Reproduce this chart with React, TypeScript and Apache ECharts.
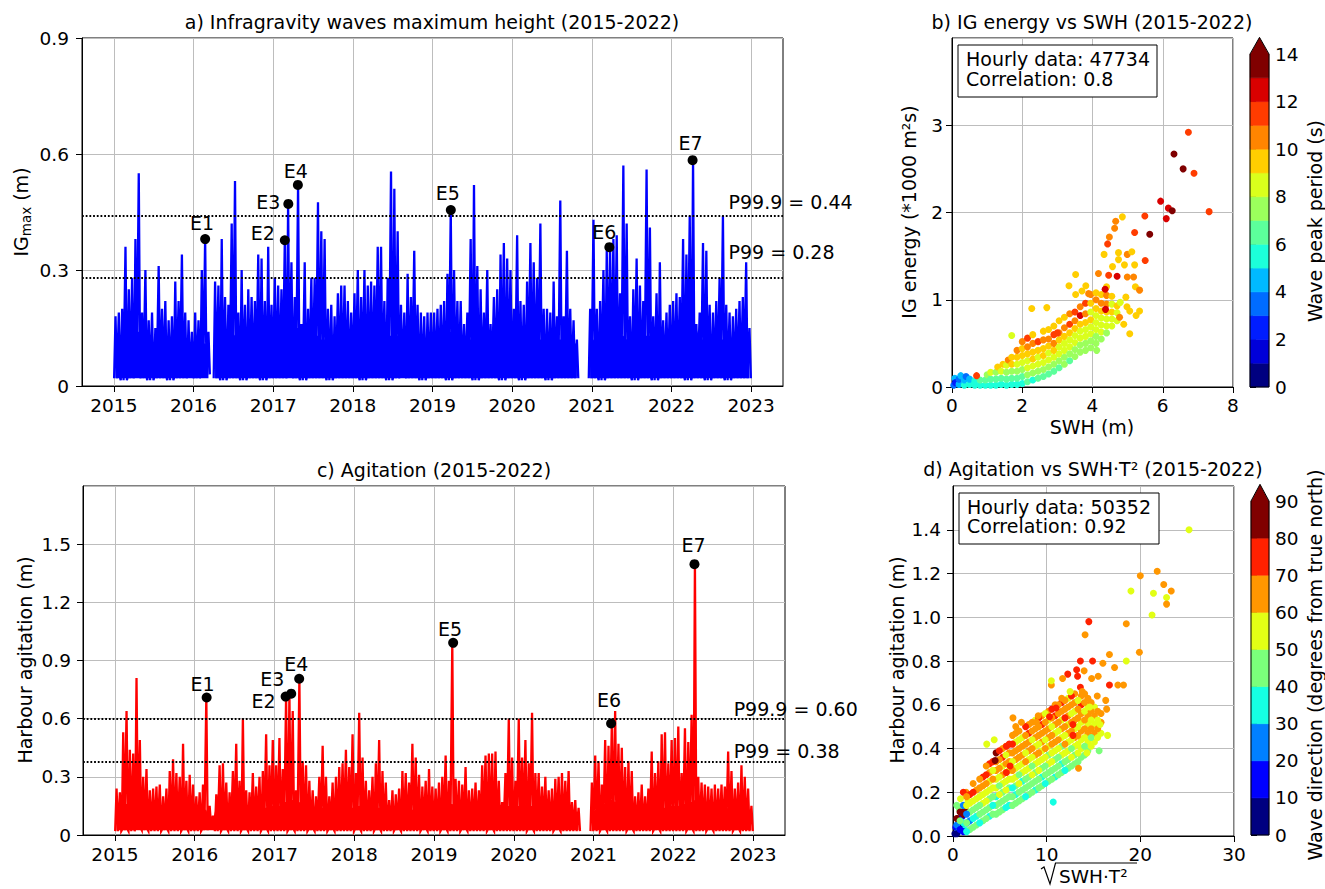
import React, { useEffect, useRef } from "react";
import * as echarts from "echarts";

const FONT = "'DejaVu Sans', 'Liberation Sans', sans-serif";

// ---------------- data ----------------
const SERIES_START = 2015;
const SLOTS_PER_YEAR = 24; // half-month slots
const yearTicks = [2015, 2016, 2017, 2018, 2019, 2020, 2021, 2022, 2023];

// a) IGmax: half-monthly peak values (null = no data)
const igPeaks: (number | null)[] = [
  0.18, 0.19, 0.2, 0.36, 0.25, 0.28, 0.38, 0.55, 0.19, 0.3,
  0.17, 0.19, 0.15, 0.31, 0.2, 0.22, 0.17, 0.18, 0.27, 0.22,
  0.34, 0.19, 0.17, 0.14, 0.19, 0.17, 0.3, 0.38, 0.14, null,
  0.27, 0.26, 0.38, 0.23, 0.21, 0.42, 0.53, 0.19, 0.3, 0.21,
  0.25, 0.23, 0.22, 0.34, 0.33, 0.22, 0.36, 0.21, 0.28, 0.26,
  0.25, 0.377, 0.471, 0.32, 0.23, 0.52, 0.16, 0.32, 0.2, 0.28,
  0.28, 0.475, 0.4, 0.38, 0.2, 0.21, 0.18, 0.24, 0.26, 0.26,
  0.22, 0.19, 0.24, 0.3, 0.23, 0.3, 0.26, 0.27, 0.26, 0.36,
  0.36, 0.22, 0.28, 0.555, 0.51, 0.4, 0.21, 0.19, 0.29, 0.23,
  0.35, 0.21, 0.19, 0.18, 0.19, 0.19, 0.19, 0.2, 0.21, 0.22,
  0.29, 0.455, 0.3, 0.22, 0.22, 0.16, 0.19, 0.38, 0.52, 0.31,
  0.25, 0.19, 0.3, 0.16, 0.23, 0.25, 0.34, 0.37, 0.33, 0.3,
  0.2, 0.39, 0.22, 0.21, 0.27, 0.37, 0.32, 0.28, 0.42, 0.2,
  0.2, 0.19, 0.27, 0.18, 0.48, 0.18, 0.35, 0.2, 0.17, 0.12,
  null, null, null, 0.2, 0.43, 0.2, 0.22, 0.3, 0.35, 0.36,
  0.38, 0.39, 0.24, 0.57, 0.42, 0.18, 0.25, 0.33, 0.26, 0.22,
  0.56, 0.41, 0.18, 0.24, 0.32, 0.17, 0.19, 0.21, 0.22, 0.24,
  0.23, 0.38, 0.34, 0.44, 0.584, 0.16, 0.19, 0.37, 0.35, 0.21,
  0.19, 0.22, 0.28, 0.44, 0.21, 0.19, 0.18, 0.2, 0.22, 0.23,
  0.32, 0.15,
];
// monthly minimum (troughs)
const igLows = [
  0.02, 0.015, 0.02, 0.025, 0.02, 0.015, 0.02, 0.02, 0.015, 0.02, 0.02, 0.025,
  0.02, 0.025, 0.03, 0.02, 0.015, 0.02, 0.02, 0.015, 0.02, 0.02, 0.015, 0.02,
  0.02, 0.02, 0.025, 0.02, 0.015, 0.02, 0.02, 0.02, 0.015, 0.02, 0.02, 0.02,
  0.02, 0.015, 0.02, 0.02, 0.02, 0.015, 0.02, 0.025, 0.02, 0.02, 0.015, 0.02,
  0.02, 0.02, 0.015, 0.02, 0.02, 0.02, 0.015, 0.02, 0.02, 0.02, 0.015, 0.02,
  0.02, 0.015, 0.02, 0.02, 0.02, 0.015, 0.02, 0.02, 0.02, 0.02, 0.02, 0.02,
  0.02, 0.015, 0.02, 0.02, 0.02, 0.02, 0.015, 0.02, 0.02, 0.015, 0.02, 0.02,
  0.02, 0.02, 0.015, 0.02, 0.02, 0.015, 0.02, 0.02, 0.015, 0.02, 0.02, 0.02,
];
// monthly typical (dense band) level
const igBand = [
  0.12, 0.13, 0.13, 0.14, 0.12, 0.11, 0.11, 0.12, 0.11, 0.12, 0.12, 0.11,
  0.12, 0.11, 0.1, 0.14, 0.13, 0.14, 0.13, 0.13, 0.12, 0.13, 0.12, 0.13,
  0.13, 0.14, 0.15, 0.15, 0.13, 0.12, 0.13, 0.12, 0.12, 0.12, 0.13, 0.12,
  0.13, 0.12, 0.13, 0.13, 0.12, 0.13, 0.13, 0.12, 0.11, 0.12, 0.12, 0.12,
  0.12, 0.13, 0.14, 0.13, 0.12, 0.12, 0.12, 0.13, 0.13, 0.14, 0.13, 0.13,
  0.13, 0.14, 0.13, 0.12, 0.12, 0.13, 0.12, 0.12, 0.12, 0.11, 0.1, 0.1,
  0.12, 0.13, 0.14, 0.15, 0.13, 0.12, 0.12, 0.13, 0.13, 0.12, 0.12, 0.13,
  0.13, 0.13, 0.15, 0.15, 0.12, 0.12, 0.12, 0.12, 0.13, 0.12, 0.12, 0.12,
];
const igThresholds = [0.44, 0.28];
const igThresholdTexts = ["P99.9 = 0.44", "P99 = 0.28"];
const igEvents: [number, number, string][] = [
  [2016.146, 0.38, "E1"], [2017.146, 0.377, "E2"], [2017.19, 0.471, "E3"], [2017.31, 0.52, "E4"],
  [2019.23, 0.455, "E5"], [2021.22, 0.359, "E6"], [2022.265, 0.584, "E7"],
];

// c) Agitation
const agPeaks: (number | null)[] = [
  0.24, 0.22, 0.53, 0.64, 0.44, 0.42, 0.81, 0.49, 0.3, 0.34,
  0.23, 0.24, 0.25, 0.26, 0.2, 0.24, 0.33, 0.39, 0.32, 0.3,
  0.47, 0.28, 0.31, 0.26, 0.2, 0.22, 0.26, 0.709, 0.15, 0.1,
  0.21, 0.36, 0.37, 0.27, 0.22, 0.33, 0.47, 0.28, 0.6, 0.23,
  0.22, 0.32, 0.25, 0.3, 0.33, 0.52, 0.36, 0.49, 0.36, 0.5,
  0.34, 0.714, 0.729, 0.64, 0.23, 0.806, 0.38, 0.36, 0.28, 0.23,
  0.2, 0.3, 0.46, 0.3, 0.2, 0.27, 0.3, 0.35, 0.37, 0.44,
  0.35, 0.52, 0.32, 0.63, 0.4, 0.28, 0.23, 0.3, 0.37, 0.49,
  0.33, 0.27, 0.18, 0.23, 0.21, 0.24, 0.33, 0.32, 0.27, 0.47,
  0.4, 0.31, 0.25, 0.28, 0.34, 0.25, 0.24, 0.27, 0.3, 0.41,
  0.28, 0.99, 0.29, 0.28, 0.26, 0.35, 0.23, 0.24, 0.27, 0.23,
  0.36, 0.41, 0.42, 0.42, 0.43, 0.28, 0.17, 0.32, 0.6, 0.4,
  0.28, 0.6, 0.4, 0.49, 0.37, 0.63, 0.32, 0.32, 0.25, 0.3,
  0.23, 0.24, 0.29, 0.3, 0.32, 0.28, 0.33, 0.17, 0.18, 0.14,
  null, null, null, 0.27, 0.41, 0.38, 0.26, 0.49, 0.46, 0.575,
  0.64, 0.47, 0.45, 0.35, 0.38, 0.33, 0.2, 0.22, 0.26, 0.2,
  0.24, 0.43, 0.32, 0.38, 0.52, 0.53, 0.37, 0.49, 0.5, 0.56,
  0.32, 0.55, 0.48, 0.62, 1.397, 0.3, 0.27, 0.26, 0.25, 0.24,
  0.26, 0.24, 0.26, 0.25, 0.43, 0.33, 0.24, 0.27, 0.36, 0.3,
  0.24, 0.15,
];
const agLows = [
  0.02, 0.025, 0.02, 0.03, 0.025, 0.02, 0.02, 0.025, 0.02, 0.02, 0.025, 0.02,
  0.02, 0.025, 0.05, 0.02, 0.025, 0.02, 0.02, 0.025, 0.02, 0.02, 0.025, 0.02,
  0.02, 0.02, 0.025, 0.02, 0.02, 0.025, 0.02, 0.02, 0.025, 0.02, 0.02, 0.02,
  0.025, 0.02, 0.02, 0.025, 0.02, 0.02, 0.025, 0.02, 0.02, 0.02, 0.025, 0.02,
  0.02, 0.025, 0.02, 0.02, 0.025, 0.02, 0.02, 0.02, 0.025, 0.02, 0.02, 0.02,
  0.02, 0.02, 0.025, 0.02, 0.02, 0.02, 0.025, 0.02, 0.02, 0.02, 0.02, 0.02,
  0.02, 0.025, 0.02, 0.02, 0.02, 0.025, 0.02, 0.02, 0.02, 0.025, 0.02, 0.02,
  0.02, 0.02, 0.025, 0.02, 0.02, 0.025, 0.02, 0.02, 0.02, 0.025, 0.02, 0.02,
];
const agBand = [
  0.15, 0.16, 0.17, 0.17, 0.15, 0.13, 0.13, 0.14, 0.14, 0.15, 0.14, 0.14,
  0.14, 0.13, 0.08, 0.15, 0.15, 0.16, 0.16, 0.15, 0.14, 0.15, 0.14, 0.15,
  0.15, 0.17, 0.18, 0.17, 0.15, 0.14, 0.14, 0.14, 0.13, 0.14, 0.15, 0.14,
  0.15, 0.16, 0.15, 0.14, 0.13, 0.13, 0.14, 0.13, 0.13, 0.14, 0.15, 0.14,
  0.14, 0.15, 0.16, 0.15, 0.14, 0.14, 0.15, 0.14, 0.15, 0.16, 0.15, 0.15,
  0.15, 0.16, 0.15, 0.14, 0.14, 0.15, 0.14, 0.14, 0.13, 0.12, 0.11, 0.11,
  0.13, 0.16, 0.18, 0.17, 0.15, 0.14, 0.14, 0.14, 0.15, 0.15, 0.14, 0.15,
  0.15, 0.16, 0.17, 0.18, 0.14, 0.13, 0.13, 0.13, 0.14, 0.14, 0.13, 0.13,
];
const agThresholds = [0.6, 0.38];
const agThresholdTexts = ["P99.9 = 0.60", "P99 = 0.38"];
const agEvents: [number, number, string][] = [
  [2016.15, 0.709, "E1"], [2017.14, 0.714, "E2"], [2017.21, 0.729, "E3"], [2017.31, 0.806, "E4"],
  [2019.24, 0.991, "E5"], [2021.22, 0.575, "E6"], [2022.265, 1.397, "E7"],
];

// b) IG energy vs SWH : [SWH (m), IG energy (*1000 m2s), peak period (s)]
const igScatterCore = [
  [0.05,0.02,3.5],[0.08,0.1,4.5],[0.1,0.05,2.5],[0.2,0.03,4.5],[0.2,0.09,3.5],[0.25,0.13,4.5],
  [0.35,0.02,5.5],[0.35,0.08,4.5],[0.4,0.12,3.5],[0.5,0.03,5.5],[0.5,0.09,4.5],
  [0.65,0.02,5.5],[0.65,0.07,5.5],[0.8,0.02,5.5],[0.8,0.08,6.5],
  [0.95,0.02,5.5],[0.95,0.08,6.5],[1.0,0.14,7.5],
  [1.1,0.02,5.5],[1.1,0.09,6.5],[1.1,0.17,8.5],
  [1.25,0.02,5.5],[1.25,0.09,6.5],[1.25,0.17,7.5],[1.3,0.23,9.5],
  [1.4,0.03,5.5],[1.4,0.1,6.5],[1.4,0.18,8.5],[1.45,0.26,9.5],
  [1.55,0.02,5.5],[1.55,0.09,6.5],[1.55,0.17,7.5],[1.55,0.25,8.5],[1.6,0.31,10.5],
  [1.7,0.03,5.5],[1.7,0.1,6.5],[1.7,0.18,7.5],[1.7,0.26,9.5],[1.7,0.34,9.5],
  [1.85,0.03,5.5],[1.85,0.1,6.5],[1.85,0.18,7.5],[1.85,0.26,8.5],[1.85,0.34,9.5],[1.85,0.42,10.5],
  [2.0,0.04,5.5],[2.0,0.12,6.5],[2.0,0.2,7.5],[2.0,0.28,8.5],[2.0,0.36,9.5],[2.0,0.44,9.5],[2.0,0.52,10.5],
  [2.15,0.06,6.5],[2.15,0.14,7.5],[2.15,0.22,8.5],[2.15,0.3,8.5],[2.15,0.38,9.5],[2.15,0.46,10.5],[2.15,0.56,11.5],
  [2.3,0.08,5.5],[2.3,0.16,7.5],[2.3,0.24,8.5],[2.3,0.32,9.5],[2.3,0.4,9.5],[2.3,0.5,10.5],[2.3,0.6,9.5],
  [2.45,0.1,6.5],[2.45,0.18,7.5],[2.45,0.26,8.5],[2.45,0.34,8.5],[2.45,0.42,9.5],[2.45,0.52,11.5],
  [2.6,0.12,6.5],[2.6,0.2,7.5],[2.6,0.28,8.5],[2.6,0.36,9.5],[2.6,0.44,9.5],[2.6,0.54,10.5],[2.6,0.64,9.5],
  [2.75,0.15,6.5],[2.75,0.23,7.5],[2.75,0.31,8.5],[2.75,0.39,8.5],[2.75,0.47,9.5],[2.75,0.55,10.5],[2.75,0.66,9.5],
  [2.9,0.18,6.5],[2.9,0.26,7.5],[2.9,0.34,8.5],[2.9,0.42,9.5],[2.9,0.5,10.5],[2.9,0.6,11.5],[2.9,0.7,9.5],
  [3.05,0.22,6.5],[3.05,0.3,7.5],[3.05,0.38,8.5],[3.05,0.46,8.5],[3.05,0.54,9.5],[3.05,0.62,10.5],[3.05,0.76,9.5],
  [3.2,0.26,7.5],[3.2,0.34,7.5],[3.2,0.42,8.5],[3.2,0.5,8.5],[3.2,0.58,9.5],[3.2,0.68,10.5],[3.2,0.8,9.5],
  [3.35,0.3,6.5],[3.35,0.38,7.5],[3.35,0.46,8.5],[3.35,0.54,8.5],[3.35,0.62,9.5],[3.35,0.72,11.5],[3.35,0.84,10.5],
  [3.5,0.35,7.5],[3.5,0.43,7.5],[3.5,0.51,8.5],[3.5,0.59,8.5],[3.5,0.67,9.5],[3.5,0.76,10.5],[3.5,0.86,11.5],
  [3.65,0.4,7.5],[3.65,0.48,7.5],[3.65,0.56,8.5],[3.65,0.64,8.5],[3.65,0.72,9.5],[3.65,0.82,12.5],[3.65,0.92,10.5],
  [3.8,0.42,7.5],[3.8,0.5,7.5],[3.8,0.58,8.5],[3.8,0.66,8.5],[3.8,0.74,9.5],[3.8,0.84,10.5],[3.8,0.96,11.5],
  [3.95,0.45,7.5],[3.95,0.53,7.5],[3.95,0.61,8.5],[3.95,0.69,8.5],[3.95,0.77,9.5],[3.95,0.86,8.5],[3.95,0.96,9.5],[3.95,1.06,10.5],
  [4.1,0.5,7.5],[4.1,0.58,7.5],[4.1,0.66,8.5],[4.1,0.74,8.5],[4.1,0.82,8.5],[4.1,0.9,9.5],[4.1,1.0,10.5],[4.1,1.08,9.5],
  [4.25,0.55,7.5],[4.25,0.63,8.5],[4.25,0.71,8.5],[4.25,0.79,8.5],[4.25,0.87,9.5],[4.25,0.96,10.5],[4.25,1.06,9.5],
  [4.4,0.62,7.5],[4.4,0.7,8.5],[4.4,0.78,8.5],[4.4,0.86,9.5],[4.4,0.95,10.5],[4.4,1.05,10.5],[4.4,1.15,9.5],
  [4.55,0.7,8.5],[4.55,0.78,8.5],[4.55,0.86,9.5],[4.55,0.95,8.5],[4.55,1.04,9.5],
  [4.7,0.76,8.5],[4.7,0.85,8.5],[4.7,0.93,9.5],
];
const igScatterSparse = [
  [6.73,2.92,11.5],[6.32,2.67,13.5],[6.58,2.5,13],[6.89,2.45,11.5],[5.94,2.13,12.5],[6.16,2.05,12.5],
  [6.27,2.02,13],[6.1,1.93,12.5],[7.32,2.01,11.5],[5.63,1.75,13.5],[5.49,1.96,11.5],[5.2,1.77,11.5],
  [5.5,1.45,11.5],[4.85,1.95,9.5],[4.66,1.9,10.5],[4.63,1.82,10.5],[4.48,1.72,10.5],[4.43,1.64,11.5],
  [4.74,1.54,9.5],[4.99,1.52,10.5],[5.12,1.55,9.5],[4.74,1.46,9.5],[4.33,1.52,9.5],[4.57,1.38,9.5],
  [4.91,1.4,9.5],[5.2,1.4,9.5],[4.17,1.3,10.5],[4.46,1.28,11.5],[4.7,1.27,12.5],[4.99,1.26,10.5],
  [5.17,1.26,10.5],[3.52,1.29,9.5],[3.33,1.16,9.5],[3.81,1.16,9.5],[3.7,1.1,9.5],[3.52,1.06,9.5],
  [3.89,1.07,10.5],[4.36,1.12,12.5],[5.22,1.15,9.5],[5.34,1.11,10.5],[4.95,1.03,9.5],[4.98,0.92,9.5],
  [4.79,0.97,8.5],[5.06,0.87,9.5],[5.34,0.87,9.5],[5.24,0.82,9.5],[4.37,0.89,12.5],[2.27,0.9,9.5],
  [2.7,0.91,9.5],[5.06,0.61,9.5],[4.89,0.72,9.5],[4.77,0.8,10.5],[4.12,0.42,7.5],[1.7,0.59,8.5],
  [0.7,0.13,11.5],[3.0,0.62,11.5],
];

// d) Agitation vs sqrt(SWH*T^2) : [sqrt(SWH*T2), agitation (m), direction (deg)]
const agScatterCore = [
  [0.2,0.01,5],[0.3,0.04,15],[0.5,0.08,85],[0.6,0.02,25],[0.7,0.12,45],[0.9,0.05,5],[1.0,0.09,15],
  [1.2,0.03,35],[1.3,0.12,85],[1.5,0.06,25],[1.6,0.16,55],[0.4,0.14,45],[0.8,0.17,55],[1.4,0.2,65],[1.1,0.2,75],
  [0.4,0.01,5],[0.4,0.05,25],[0.4,0.08,85],
  [1.1,0.02,15],[1.1,0.06,35],[1.1,0.1,85],[1.1,0.14,25],
  [1.8,0.03,45],[1.8,0.07,25],[1.8,0.11,45],[1.8,0.15,55],[1.8,0.19,75],
  [2.5,0.05,45],[2.5,0.09,35],[2.5,0.13,45],[2.5,0.17,55],[2.5,0.21,65],
  [3.2,0.07,45],[3.2,0.11,45],[3.2,0.15,55],[3.2,0.19,55],[3.2,0.23,65],[3.2,0.27,75],
  [3.9,0.09,35],[3.9,0.13,45],[3.9,0.17,45],[3.9,0.21,55],[3.9,0.25,55],[3.9,0.29,65],[3.9,0.33,75],
  [4.6,0.1,45],[4.6,0.14,45],[4.6,0.18,35],[4.6,0.22,55],[4.6,0.26,55],[4.6,0.3,65],[4.6,0.34,65],[4.6,0.38,85],
  [5.3,0.12,45],[5.3,0.16,45],[5.3,0.2,45],[5.3,0.24,55],[5.3,0.28,65],[5.3,0.32,55],[5.3,0.36,75],[5.3,0.4,65],
  [6.0,0.14,35],[6.0,0.18,45],[6.0,0.22,45],[6.0,0.26,55],[6.0,0.3,55],[6.0,0.34,65],[6.0,0.38,65],[6.0,0.42,75],
  [6.7,0.15,45],[6.7,0.19,35],[6.7,0.23,45],[6.7,0.27,55],[6.7,0.31,55],[6.7,0.35,65],[6.7,0.39,65],[6.7,0.43,55],[6.7,0.47,65],
  [7.4,0.17,45],[7.4,0.21,45],[7.4,0.25,35],[7.4,0.29,55],[7.4,0.33,55],[7.4,0.37,65],[7.4,0.41,65],[7.4,0.45,55],
  [8.1,0.19,45],[8.1,0.23,45],[8.1,0.27,45],[8.1,0.31,55],[8.1,0.35,55],[8.1,0.39,65],[8.1,0.43,65],[8.1,0.47,75],[8.1,0.51,65],
  [8.8,0.21,35],[8.8,0.25,45],[8.8,0.29,45],[8.8,0.33,55],[8.8,0.37,65],[8.8,0.41,55],[8.8,0.45,65],[8.8,0.49,65],[8.8,0.53,55],
  [9.5,0.23,45],[9.5,0.27,35],[9.5,0.31,45],[9.5,0.35,55],[9.5,0.39,55],[9.5,0.43,65],[9.5,0.47,65],[9.5,0.51,75],[9.5,0.55,65],
  [10.2,0.25,45],[10.2,0.29,45],[10.2,0.33,55],[10.2,0.37,45],[10.2,0.41,55],[10.2,0.45,65],[10.2,0.49,65],[10.2,0.53,55],[10.2,0.57,65],
  [10.9,0.27,35],[10.9,0.31,45],[10.9,0.35,45],[10.9,0.39,55],[10.9,0.43,65],[10.9,0.47,55],[10.9,0.51,65],[10.9,0.55,75],[10.9,0.6,65],
  [11.6,0.29,45],[11.6,0.33,35],[11.6,0.37,55],[11.6,0.41,45],[11.6,0.45,55],[11.6,0.49,65],[11.6,0.53,55],[11.6,0.57,65],[11.6,0.61,75],
  [12.3,0.31,45],[12.3,0.35,45],[12.3,0.39,55],[12.3,0.43,55],[12.3,0.47,65],[12.3,0.51,55],[12.3,0.55,65],[12.3,0.59,65],[12.3,0.63,55],
  [13.0,0.33,45],[13.0,0.37,45],[13.0,0.41,55],[13.0,0.45,65],[13.0,0.49,55],[13.0,0.53,65],[13.0,0.57,55],[13.0,0.61,65],[13.0,0.65,65],
  [13.7,0.36,45],[13.7,0.4,55],[13.7,0.44,55],[13.7,0.48,65],[13.7,0.52,55],[13.7,0.56,65],[13.7,0.6,75],[13.7,0.64,65],
  [14.4,0.39,45],[14.4,0.43,55],[14.4,0.47,65],[14.4,0.51,55],[14.4,0.55,65],[14.4,0.59,55],[14.4,0.63,65],
  [15.1,0.43,55],[15.1,0.47,65],[15.1,0.51,55],[15.1,0.55,65],[15.1,0.59,55],
  [15.8,0.47,55],[15.8,0.52,65],[15.8,0.56,65],
];
const agScatterFill = [
  [0.75,0.03,15],[0.75,0.07,45],[0.75,0.11,85],
  [1.45,0.02,35],[1.45,0.06,45],[1.45,0.1,25],[1.45,0.14,55],[1.45,0.18,65],
  [2.15,0.04,45],[2.15,0.08,35],[2.15,0.12,45],[2.15,0.16,55],[2.15,0.2,75],[2.15,0.24,65],
  [2.85,0.06,35],[2.85,0.1,45],[2.85,0.14,45],[2.85,0.18,55],[2.85,0.22,65],[2.85,0.26,65],
  [3.55,0.08,45],[3.55,0.12,45],[3.55,0.16,55],[3.55,0.2,55],[3.55,0.24,65],[3.55,0.28,75],[3.55,0.32,65],
  [4.25,0.1,45],[4.25,0.14,35],[4.25,0.18,45],[4.25,0.22,55],[4.25,0.26,65],[4.25,0.3,55],[4.25,0.34,75],
  [4.95,0.11,45],[4.95,0.15,45],[4.95,0.19,55],[4.95,0.23,45],[4.95,0.27,55],[4.95,0.31,65],[4.95,0.35,65],[4.95,0.39,75],
  [5.65,0.13,35],[5.65,0.17,45],[5.65,0.21,55],[5.65,0.25,55],[5.65,0.29,65],[5.65,0.33,65],[5.65,0.37,55],[5.65,0.41,65],
  [6.35,0.14,45],[6.35,0.18,45],[6.35,0.22,35],[6.35,0.26,55],[6.35,0.3,65],[6.35,0.34,55],[6.35,0.38,65],[6.35,0.42,75],[6.35,0.46,65],
  [7.05,0.16,45],[7.05,0.2,45],[7.05,0.24,55],[7.05,0.28,45],[7.05,0.32,55],[7.05,0.36,65],[7.05,0.4,65],[7.05,0.44,55],[7.05,0.48,65],
  [7.75,0.18,35],[7.75,0.22,45],[7.75,0.26,45],[7.75,0.3,55],[7.75,0.34,65],[7.75,0.38,55],[7.75,0.42,65],[7.75,0.46,65],[7.75,0.5,75],
  [8.45,0.2,45],[8.45,0.24,45],[8.45,0.28,55],[8.45,0.32,45],[8.45,0.36,55],[8.45,0.4,65],[8.45,0.44,55],[8.45,0.48,65],[8.45,0.52,65],
  [9.15,0.22,45],[9.15,0.26,45],[9.15,0.3,55],[9.15,0.34,55],[9.15,0.38,65],[9.15,0.42,55],[9.15,0.46,65],[9.15,0.5,65],[9.15,0.54,75],
  [9.85,0.24,35],[9.85,0.28,45],[9.85,0.32,45],[9.85,0.36,55],[9.85,0.4,65],[9.85,0.44,55],[9.85,0.48,65],[9.85,0.52,65],[9.85,0.56,55],
  [10.55,0.26,45],[10.55,0.3,45],[10.55,0.34,55],[10.55,0.38,55],[10.55,0.42,65],[10.55,0.46,65],[10.55,0.5,55],[10.55,0.54,65],[10.55,0.58,75],
  [11.25,0.28,45],[11.25,0.32,45],[11.25,0.36,45],[11.25,0.4,55],[11.25,0.44,65],[11.25,0.48,55],[11.25,0.52,65],[11.25,0.56,65],[11.25,0.6,65],
  [11.95,0.3,35],[11.95,0.34,45],[11.95,0.38,55],[11.95,0.42,65],[11.95,0.46,55],[11.95,0.5,65],[11.95,0.54,75],[11.95,0.58,65],[11.95,0.62,65],
  [12.65,0.32,45],[12.65,0.36,55],[12.65,0.4,45],[12.65,0.44,55],[12.65,0.48,65],[12.65,0.52,65],[12.65,0.56,55],[12.65,0.6,65],[12.65,0.64,75],
  [13.35,0.34,45],[13.35,0.38,55],[13.35,0.42,55],[13.35,0.46,65],[13.35,0.5,55],[13.35,0.54,65],[13.35,0.58,65],[13.35,0.62,55],
  [14.05,0.37,45],[14.05,0.41,45],[14.05,0.45,55],[14.05,0.49,65],[14.05,0.53,65],[14.05,0.57,55],[14.05,0.61,65],[14.05,0.65,65],
  [14.75,0.41,55],[14.75,0.45,45],[14.75,0.49,65],[14.75,0.53,55],[14.75,0.57,65],[14.75,0.61,65],
  [15.45,0.45,55],[15.45,0.49,65],[15.45,0.53,55],[15.45,0.57,65],
];
const agScatterSparse = [
  [25.2,1.4,55],[21.8,1.21,65],[20.0,1.19,65],[22.5,1.15,65],[23.3,1.12,65],[19.0,1.12,55],[21.4,1.11,55],
  [22.8,1.09,55],[22.8,1.06,65],[21.25,1.01,55],[14.5,0.98,75],[18.5,0.97,65],[14.1,0.92,65],[19.9,0.84,65],
  [18.5,0.8,55],[13.6,0.8,75],[14.9,0.8,75],[16.0,0.79,65],[16.7,0.83,65],[17.25,0.77,65],[13.2,0.76,75],
  [14.0,0.755,65],[12.25,0.74,75],[13.3,0.73,75],[15.5,0.73,65],[14.8,0.72,65],[11.7,0.72,65],[10.5,0.69,65],
  [10.5,0.71,55],[16.7,0.69,75],[17.6,0.69,65],[18.2,0.69,65],[13.6,0.68,75],[12.5,0.66,55],[13.8,0.66,65],
  [15.4,0.64,65],[16.3,0.62,65],[11.6,0.63,65],[11.0,0.585,75],[14.6,0.59,55],[16.4,0.58,65],[6.4,0.54,65],
  [7.3,0.52,65],[6.7,0.5,65],[8.9,0.52,65],[9.1,0.55,65],[10.3,0.545,75],[15.7,0.51,55],[16.5,0.46,55],
  [12.8,0.51,75],[12.8,0.46,75],[3.6,0.42,55],[4.4,0.44,55],[15.6,0.39,45],[14.3,0.38,55],[13.4,0.31,65],
  [10.7,0.155,35],[5.7,0.41,75],[4.5,0.345,85],[6.1,0.32,75],[5.7,0.29,75],
];

// colour scales (discrete jet)
const periodLevels = [0, 1, 2, 3, 4, 5, 6, 7, 8, 9, 10, 11, 12, 13, 14];
const periodColors = ["#000080", "#0000d9", "#001dff", "#006cff", "#00baff", "#1cffda", "#5cff9b", "#9bff5c", "#daff1c", "#ffce00", "#ff8500", "#ff3c00", "#d90000", "#800000"];
const periodOver = "#800000";
const dirLevels = [0, 10, 20, 30, 40, 50, 60, 70, 80, 90];
const dirColors = ["#000080", "#0000ff", "#0080ff", "#15ffe2", "#7bff7b", "#e2ff15", "#ff9700", "#ff2100", "#800000"];
const dirOver = "#800000";

// label placement (pixels / data anchors) kept apart from values
const igEventOffsets = [[-3, -16], [-22, -7], [-20, -2], [-2, -14], [-3, -17], [-5, -15], [-2, -17]];
const agEventOffsets = [[-4, -14], [-22, 4], [-19, -15], [-3, -15], [-3, -14], [-2, -24], [-1, -19]];
const igThresholdTextAnchors = [[2022.71, 0.476], [2022.71, 0.347]];
const agThresholdTextAnchors = [[2022.75, 0.652], [2022.75, 0.431]];

// ---------------- helpers ----------------
function spikeLine(peaks: (number | null)[], lows: number[]) {
  const pts: any[] = [];
  const w = 1 / SLOTS_PER_YEAR;
  peaks.forEach((p, i) => {
    const t0 = SERIES_START + i * w;
    if (p === null) {
      pts.push([t0 + w / 2, null]);
      return;
    }
    const lo = lows[Math.floor(i / 2)];
    pts.push([t0 + 0.08 * w, lo], [t0 + 0.5 * w, p], [t0 + 0.92 * w, lo]);
  });
  return pts;
}
function bandLine(peaks: (number | null)[], band: number[]) {
  return peaks.map((p, i) => [SERIES_START + (i + 0.5) / SLOTS_PER_YEAR, p === null ? null : band[Math.floor(i / 2)]]);
}
function binColor(v: number, levels: number[], colors: string[], over: string) {
  for (let i = 0; i < levels.length - 1; i++) if (v < levels[i + 1]) return colors[i];
  return over;
}
function colorbarData(levels: number[]) {
  const d = levels.slice(0, -1).map((lo, i) => [lo, levels[i + 1], 0]);
  d.push([levels[0], levels[levels.length - 1], 1]);
  return d;
}
function colorbarRender(colors: string[], over: string) {
  return (params: any, api: any) => {
    const lo = api.value(0);
    const hi = api.value(1);
    const isOver = api.value(2);
    const a = api.coord([0, hi]);
    const b = api.coord([1, lo]);
    if (!isOver) {
      const c = colors[params.dataIndex];
      return {
        type: "rect",
        shape: { x: a[0], y: a[1], width: b[0] - a[0], height: b[1] - a[1] },
        style: { fill: c, stroke: c, lineWidth: 0.6 },
      };
    }
    const ext = (b[1] - a[1]) * 0.05;
    const mid = (a[0] + b[0]) / 2;
    return {
      type: "group",
      children: [
        { type: "polygon", shape: { points: [[a[0], a[1] + 0.5], [mid, a[1] - ext], [b[0], a[1] + 0.5]] }, style: { fill: over } },
        {
          type: "polygon",
          shape: { points: [[a[0], b[1]], [a[0], a[1]], [mid, a[1] - ext], [b[0], a[1]], [b[0], b[1]]] },
          style: { fill: "none", stroke: "#000", lineWidth: 1 },
        },
      ],
    };
  };
}

const lbl = (margin: number, extra: any = {}) => ({ color: "#000", fontSize: 18.5, fontFamily: FONT, margin, ...extra });
const tickStyle = { show: true, length: 6, lineStyle: { color: "#000", width: 1 } };
const axisLn = { show: true, onZero: false, lineStyle: { color: "#000", width: 1 } };
const split = { show: true, lineStyle: { color: "#bdbdbd", width: 1 } };
const gridBox = { show: true, borderColor: "#000", borderWidth: 1, backgroundColor: "transparent" };

function timeAxis(gridIndex: number, margin: number) {
  return {
    type: "value", gridIndex, min: 2014.6, max: 2023.4,
    axisLine: axisLn,
    axisTick: { ...tickStyle, customValues: yearTicks },
    axisLabel: lbl(margin, { customValues: yearTicks, formatter: (v: number) => String(Math.round(v)) }),
    splitLine: split,
  };
}
function valueAxis(gridIndex: number, min: number, max: number, interval: number, margin: number, extraLabel: any = {}) {
  return {
    type: "value", gridIndex, min, max, interval,
    axisLine: axisLn, axisTick: tickStyle, axisLabel: lbl(margin, extraLabel), splitLine: split,
  };
}
function colorbarAxis(gridIndex: number, max: number, interval: number, minor: boolean) {
  return {
    type: "value", gridIndex, min: 0, max, interval, position: "right",
    axisLine: { show: false },
    axisTick: tickStyle,
    minorTick: { show: minor, splitNumber: 2, length: 3, lineStyle: { color: "#000", width: 1 } },
    axisLabel: lbl(6),
    splitLine: { show: false },
  };
}

function eventSeries(events: [number, number, string][], offsets: number[][], xi: number, thresholds: number[]) {
  return {
    type: "scatter", xAxisIndex: xi, yAxisIndex: xi, z: 6, symbolSize: 10,
    itemStyle: { color: "#000", opacity: 1 },
    data: events.map((e, i) => ({
      value: [e[0], e[1]],
      label: { show: true, position: "inside", offset: offsets[i], formatter: e[2], color: "#000", opacity: 1, fontSize: 19, fontFamily: FONT },
    })),
    markLine: {
      silent: true, symbol: ["none", "none"], label: { show: false },
      lineStyle: { color: "#000", type: [1.8, 1.9], width: 2, opacity: 1 },
      data: thresholds.map((v) => ({ yAxis: v })),
    },
  };
}
function thresholdTextSeries(texts: string[], anchors: number[][], xi: number) {
  return {
    type: "scatter", xAxisIndex: xi, yAxisIndex: xi, z: 6, symbolSize: 1,
    itemStyle: { color: "rgba(0,0,0,0)", opacity: 1 },
    data: anchors.map((a, i) => ({
      value: a,
      label: { show: true, position: "right", distance: 0, formatter: texts[i], color: "#000", opacity: 1, fontSize: 19, fontFamily: FONT },
    })),
  };
}

function txt(x: number, y: number, text: string, opts: any = {}) {
  const align = opts.align || "center";
  return {
    type: "text", x, y, rotation: opts.rotation || 0, z: 60,
    style: {
      text, fontSize: opts.size || 19, fontFamily: FONT, fill: "#000",
      textAlign: align, align, textVerticalAlign: "middle", verticalAlign: "middle",
      lineHeight: opts.lineHeight, rich: opts.rich,
    },
  };
}

export default function App() {
  const ref = useRef<HTMLDivElement>(null);
  useEffect(() => {
    if (!ref.current) return;
    const chart = echarts.init(ref.current, null, { renderer: "svg" });
    const ROT = Math.PI / 2;
    const option: any = {
      animation: false,
      backgroundColor: "#fff",
      textStyle: { fontFamily: FONT },
      grid: [
        { left: 82, top: 38, width: 701, height: 348, ...gridBox },
        { left: 952, top: 38, width: 281, height: 349, ...gridBox },
        { left: 83, top: 486, width: 702, height: 349, ...gridBox },
        { left: 953, top: 486, width: 281, height: 350, ...gridBox },
        { left: 1250, top: 54, width: 19, height: 333 },
        { left: 1251, top: 501, width: 18, height: 334 },
      ],
      xAxis: [
        timeAxis(0, 10),
        valueAxis(1, 0, 8, 2, 9),
        timeAxis(2, 10),
        valueAxis(3, 0, 30, 10, 9),
        { type: "value", gridIndex: 4, min: 0, max: 1, show: false },
        { type: "value", gridIndex: 5, min: 0, max: 1, show: false },
      ],
      yAxis: [
        valueAxis(0, 0, 0.9, 0.3, 13),
        valueAxis(1, 0, 4, 1, 9, { showMaxLabel: false }),
        valueAxis(2, 0, 1.8, 0.3, 12, { showMaxLabel: false }),
        valueAxis(3, 0, 1.6, 0.2, 12, { showMaxLabel: false, formatter: (v: number) => v.toFixed(1) }),
        colorbarAxis(4, 14, 2, true),
        colorbarAxis(5, 90, 10, false),
      ],
      series: [
        // a) band + spikes
        {
          type: "line", xAxisIndex: 0, yAxisIndex: 0, z: 2, symbol: "none", connectNulls: false,
          lineStyle: { width: 0, color: "#0000ff" }, areaStyle: { color: "#0000ff", opacity: 1, origin: 0.02 },
          data: bandLine(igPeaks, igBand),
        },
        {
          type: "line", xAxisIndex: 0, yAxisIndex: 0, z: 3, symbol: "none", connectNulls: false,
          lineStyle: { width: 2.3, color: "#0000ff", join: "miter" }, data: spikeLine(igPeaks, igLows),
        },
        eventSeries(igEvents, igEventOffsets, 0, igThresholds),
        thresholdTextSeries(igThresholdTexts, igThresholdTextAnchors, 0),
        // c) band + spikes
        {
          type: "line", xAxisIndex: 2, yAxisIndex: 2, z: 2, symbol: "none", connectNulls: false,
          lineStyle: { width: 0, color: "#ff0000" }, areaStyle: { color: "#ff0000", opacity: 1, origin: 0.025 },
          data: bandLine(agPeaks, agBand),
        },
        {
          type: "line", xAxisIndex: 2, yAxisIndex: 2, z: 3, symbol: "none", connectNulls: false,
          lineStyle: { width: 2.3, color: "#ff0000", join: "miter" }, data: spikeLine(agPeaks, agLows),
        },
        eventSeries(agEvents, agEventOffsets, 2, agThresholds),
        thresholdTextSeries(agThresholdTexts, agThresholdTextAnchors, 2),
        // b) scatter
        {
          type: "scatter", xAxisIndex: 1, yAxisIndex: 1, z: 3, symbolSize: 7,
          itemStyle: { color: (p: any) => binColor(p.value[2], periodLevels, periodColors, periodOver), opacity: 1 },
          data: [...igScatterCore, ...igScatterSparse],
        },
        // d) scatter
        {
          type: "scatter", xAxisIndex: 3, yAxisIndex: 3, z: 3, symbolSize: 7,
          itemStyle: { color: (p: any) => binColor(p.value[2], dirLevels, dirColors, dirOver), opacity: 1 },
          data: [...agScatterCore, ...agScatterFill, ...agScatterSparse],
        },
        // colorbars
        {
          type: "custom", xAxisIndex: 4, yAxisIndex: 4, z: 3, clip: false,
          renderItem: colorbarRender(periodColors, periodOver), data: colorbarData(periodLevels),
        },
        {
          type: "custom", xAxisIndex: 5, yAxisIndex: 5, z: 3, clip: false,
          renderItem: colorbarRender(dirColors, dirOver), data: colorbarData(dirLevels),
        },
      ],
      graphic: {
        elements: [
          txt(432, 22, "a) Infragravity waves maximum height (2015-2022)"),
          txt(1092, 22, "b) IG energy vs SWH (2015-2022)"),
          txt(434, 470, "c) Agitation (2015-2022)"),
          txt(1093, 468.5, "d) Agitation vs SWH\u00b7T\u00b2 (2015-2022)"),
          txt(21, 212, "{a|IG}{b|max}{a| (m)}", {
            rotation: ROT,
            rich: {
              a: { fontSize: 19, fontFamily: FONT, fill: "#000", color: "#000" },
              b: { fontSize: 13.5, fontFamily: FONT, fill: "#000", color: "#000", padding: [10, 0, 0, 0] },
            },
          }),
          txt(909, 212, "IG energy (*1000 m\u00b2s)", { rotation: ROT }),
          txt(1092, 427, "SWH (m)"),
          txt(25, 660, "Harbour agitation (m)", { rotation: ROT }),
          txt(897, 660, "Harbour agitation (m)", { rotation: ROT }),
          txt(1315, 221, "Wave peak period (s)", { rotation: ROT }),
          txt(1315, 665, "Wave direction (degrees from true north)", { rotation: ROT }),
          // sqrt(SWH*T^2) label
          {
            type: "polyline", z: 60,
            shape: { points: [[1041, 869], [1044, 867], [1050, 884], [1055.5, 863], [1137, 863]] },
            style: { stroke: "#000", lineWidth: 1.2, fill: "none" },
          },
          txt(1059, 876, "SWH\u00b7T\u00b2", { align: "left", size: 18.5 }),
          // info boxes
          { type: "rect", z: 60, shape: { x: 958, y: 45, width: 199, height: 52 }, style: { fill: "#fff", stroke: "#000", lineWidth: 1 } },
          txt(966, 68.8, "Hourly data: 47734\nCorrelation: 0.8", { align: "left", lineHeight: 19.5 }),
          { type: "rect", z: 60, shape: { x: 959, y: 493, width: 200, height: 51 }, style: { fill: "#fff", stroke: "#000", lineWidth: 1 } },
          txt(967, 516.7, "Hourly data: 50352\nCorrelation: 0.92", { align: "left", lineHeight: 19.5 }),
        ],
      },
    };
    chart.setOption(option);
    return () => chart.dispose();
  }, []);
  return (
    <div
      ref={ref}
      style={{ position: "fixed", left: 0, top: 0, width: 1325, height: 889, background: "#fff" }}
    />
  );
}
